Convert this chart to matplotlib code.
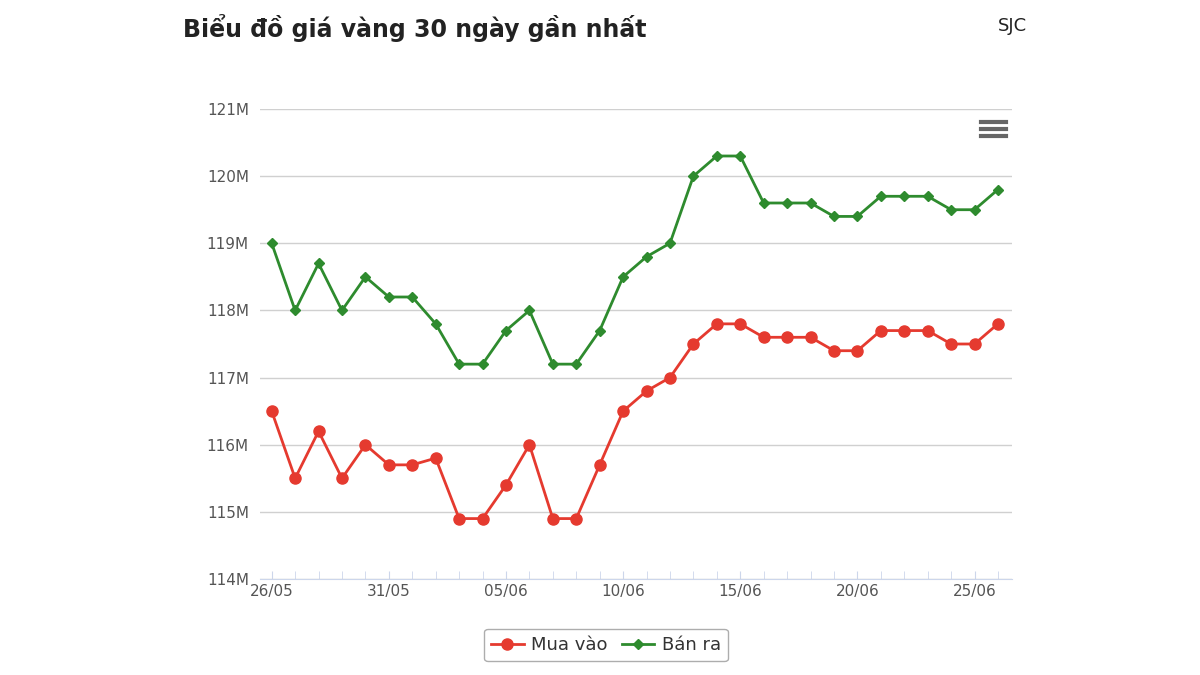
import matplotlib
matplotlib.use("Agg")
import matplotlib.pyplot as plt
from matplotlib.lines import Line2D

days = [f"{d:02d}/05" for d in range(26, 32)] + [f"{d:02d}/06" for d in range(1, 27)]
mua_vao = [116.5, 115.5, 116.2, 115.5, 116.0, 115.7, 115.7, 115.8, 114.9, 114.9,
           115.4, 116.0, 114.9, 114.9, 115.7, 116.5, 116.8, 117.0, 117.5, 117.8,
           117.8, 117.6, 117.6, 117.6, 117.4, 117.4, 117.7, 117.7, 117.7, 117.5,
           117.5, 117.8]
ban_ra = [119.0, 118.0, 118.7, 118.0, 118.5, 118.2, 118.2, 117.8, 117.2, 117.2,
          117.7, 118.0, 117.2, 117.2, 117.7, 118.5, 118.8, 119.0, 120.0, 120.3,
          120.3, 119.6, 119.6, 119.6, 119.4, 119.4, 119.7, 119.7, 119.7, 119.5,
          119.5, 119.8]
yticks = [114, 115, 116, 117, 118, 119, 120, 121]

red, green = "#e53a2f", "#2e8b2e"
fig = plt.figure(figsize=(12, 6.75), dpi=100)
ax = fig.add_axes([260/1200, 1-579/675, (1012-260)/1200, (579-109)/675])
x = list(range(len(days)))
ax.plot(x, mua_vao, color=red, lw=2, marker="o", ms=8, zorder=3)
ax.plot(x, ban_ra, color=green, lw=2, marker="D", ms=5.5, zorder=3)
ax.set_xlim(-0.5, len(days) - 0.4)
ax.set_ylim(114, 121)
ax.set_yticks(yticks)
ax.set_yticklabels([f"{v}M" for v in yticks], fontsize=11, color="#555555")
ax.set_xticks(x[::5])
ax.set_xticklabels(days[::5], fontsize=11, color="#555555")
ax.set_xticks(x, minor=True)
ax.tick_params(axis="x", which="both", length=6, color="#ccd6eb", direction="in")
ax.tick_params(axis="y", length=0, pad=8)
ax.grid(axis="y", color="#d0d0d0", lw=1)
for s in ["top", "right", "left"]:
    ax.spines[s].set_visible(False)
ax.spines["bottom"].set_color("#ccd6eb")

fig.text(183/1200, 1-28/675, "Biểu đồ giá vàng 30 ngày gần nhất", fontsize=17,
         fontweight="bold", color="#222222", va="center")
fig.text(1027/1200, 1-26/675, "SJC", fontsize=13, color="#222222", va="center", ha="right")
for yy in [122, 129, 136]:
    fig.add_artist(Line2D([981/1200, 1006/1200], [1-yy/675]*2, color="#666666", lw=3))

handles = [Line2D([], [], color=red, lw=2, marker="o", ms=8),
           Line2D([], [], color=green, lw=2, marker="D", ms=5.5)]
leg = fig.legend(handles, ["Mua vào", "Bán ra"], loc="center", bbox_to_anchor=(606/1200, 1-645/675),
                 ncol=2, fontsize=13, frameon=True, handlelength=1.8, columnspacing=0.8,
                 handletextpad=0.4, fancybox=True)
leg.get_frame().set_edgecolor("#999999")
for t in leg.get_texts():
    t.set_color("#333333")

fig.savefig("out.png", dpi=100)
